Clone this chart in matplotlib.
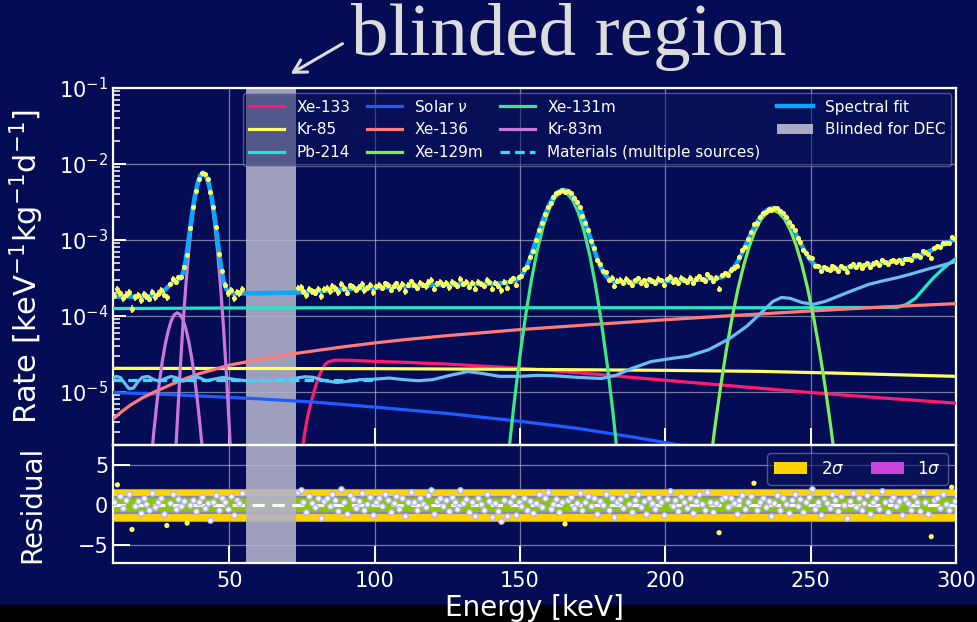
import numpy as np
import matplotlib
matplotlib.use("Agg")
import matplotlib.pyplot as plt
from matplotlib.patches import Patch, Rectangle, FancyArrowPatch
from matplotlib.ticker import LogLocator, NullFormatter, FixedLocator

plt.rcParams["font.family"] = ["DejaVu Sans"]
plt.rcParams["mathtext.fontset"] = "dejavusans"

BG = "#040c55"
E_MIN, E_MAX = 10, 300
BLIND_LO, BLIND_HI = 55.6, 72.8

# ---------------- measured spectrum: 1 keV bins, DEC window removed ----------------
bin_centers = np.concatenate([np.arange(10.5, 55.0, 1.0), np.arange(73.5, 300.0, 1.0)])

# rate in units of 1e-4 / (keV kg d)
data_rate_e4 = [
    1.85, 2.25, 2.00, 1.73, 1.91, 2.05, 1.24, 1.76, 1.89, 1.62,
    1.94, 1.82, 1.69, 2.07, 1.78, 1.97, 2.17, 1.90, 1.75, 2.60,
    3.09, 2.76, 3.21, 3.22, 4.38, 6.36, 14.2, 27.2, 43.8, 63.4,
    76.4, 74.7, 63.3, 42.7, 26.9, 14.6, 6.54, 3.88, 2.53, 2.00,
    2.22, 1.70, 2.07, 1.99, 2.24,
    2.33, 2.38, 2.12, 1.87, 2.28, 2.12, 2.03, 2.26, 1.80, 2.23,
    2.33, 2.12, 2.47, 2.31, 2.04, 2.64, 2.30, 2.01, 2.52, 2.42,
    2.19, 2.40, 2.63, 2.18, 2.34, 2.55, 2.05, 2.44, 2.54, 2.32,
    2.67, 2.53, 2.19, 2.46, 2.67, 2.31, 2.65, 2.12, 2.53, 2.85,
    2.57, 2.32, 2.69, 2.53, 2.45, 2.82, 3.00, 2.26, 2.67, 2.78,
    2.55, 2.72, 2.38, 2.83, 2.66, 2.47, 3.07, 2.65, 2.78, 2.39,
    2.72, 2.27, 2.83, 2.65, 2.49, 2.97, 2.78, 2.27, 2.71, 2.46,
    2.16, 2.83, 2.36, 2.88, 3.14, 2.58, 3.21, 3.34, 4.13, 4.44,
    5.96, 7.07, 9.87, 13.57, 16.48, 21.68, 27.32, 30.89, 36.39, 41.14,
    42.83, 45.59, 42.97, 44.28, 41.42, 35.95, 31.46, 27.25, 20.69, 16.88,
    13.42, 9.69, 7.79, 5.37, 4.79, 3.87, 3.73, 2.95, 3.15, 2.48,
    2.87, 2.96, 2.69, 3.08, 2.82, 2.58, 2.94, 3.14, 2.74, 2.93,
    2.55, 3.02, 2.88, 2.72, 3.10, 2.95, 2.54, 3.04, 3.29, 2.83,
    3.04, 2.70, 3.19, 2.99, 2.83, 3.17, 2.70, 3.09, 3.32, 3.03,
    2.90, 3.51, 3.21, 2.89, 3.20, 2.27, 3.44, 3.65, 3.47, 4.07,
    4.33, 4.50, 5.94, 7.31, 8.09, 10.24, 12.75, 16.04, 16.58, 19.76,
    22.51, 23.64, 25.66, 25.02, 26.25, 26.37, 23.68, 22.74, 20.01, 16.95,
    15.44, 13.47, 10.71, 9.30, 7.28, 6.68, 6.04, 5.75, 4.56, 4.54,
    3.90, 4.42, 4.20, 4.00, 4.52, 4.31, 3.95, 4.54, 4.26, 3.82,
    4.50, 4.85, 4.36, 4.78, 4.33, 4.66, 5.03, 4.35, 4.89, 5.08,
    4.72, 5.49, 5.10, 4.76, 5.32, 5.52, 5.17, 5.47, 4.91, 5.68,
    5.62, 5.51, 6.30, 6.25, 6.01, 7.15, 6.92, 6.60, 5.75, 7.84,
    8.26, 8.09, 9.15, 9.04, 9.09, 10.79, 10.43,
]

# normalised residuals (data - fit) / sigma per bin
residuals = [
    0.3, 2.5, 1.1, -0.4, 0.6, 1.4, -3.1, -0.2, 0.5, -1.0,
    0.8, 0.1, -0.6, 1.5, -0.3, 0.4, 0.9, -1.2, -2.6, 0.2,
    1.3, -0.5, 0.7, -0.1, 0.5, -2.3, 0.0, 0.6, -0.8, 0.3,
    1.0, -0.4, 0.2, -1.9, 0.4, 1.2, -0.7, 0.9, 0.3, -0.5,
    1.1, -1.3, 0.6, 0.2, 1.5,
    1.6, 1.8, 0.4, -0.9, 1.1, 0.2, -0.3, 0.8, -1.6, 0.5,
    0.9, -0.2, 1.4, 0.6, -0.8, 2.0, 0.3, -1.1, 1.2, 0.7,
    -0.4, 0.5, 1.5, -0.6, 0.1, 1.0, -1.3, 0.4, 0.8, -0.2,
    1.3, 0.6, -0.9, 0.2, 1.1, -0.5, 0.9, -1.4, 0.3, 1.6,
    0.4, -0.7, 0.8, 0.1, -0.3, 1.2, 1.9, -1.2, 0.5, 0.9,
    -0.1, 0.6, -0.8, 1.0, 0.3, -0.5, 1.9, 0.2, 0.7, -0.9,
    0.4, -1.4, 0.8, 0.1, -0.6, 1.3, 0.5, -1.5, 0.2, -0.8,
    -2.0, 0.6, -1.4, 0.3, 1.1, -1.25, 0.4, -0.2, 0.9, -0.6,
    0.5, -1.0, 0.2, 1.4, -0.3, 0.8, 1.6, -0.5, 0.1, 0.7,
    -0.9, 0.3, -2.4, 0.6, 1.0, -0.4, 0.2, 1.5, -0.7, 0.4,
    1.1, -0.2, 0.8, -1.2, 0.5, 0.0, 1.3, -0.6, 0.9, -1.5,
    0.3, 0.7, -0.4, 1.2, 0.1, -0.9, 0.6, 1.4, -0.3, 0.5,
    -1.1, 0.8, 0.2, -0.5, 1.0, 0.4, -1.3, 0.7, 1.7, -0.2,
    0.6, -0.8, 1.1, 0.3, -0.4, 0.9, -1.0, 0.5, 1.3, 0.1,
    -0.6, 1.6, 0.4, -0.9, 0.2, -3.5, 0.7, 1.0, -0.3, 0.8,
    0.2, -1.2, 0.6, 1.2, -0.5, 0.3, 1.1, 2.7, -0.7, 0.4,
    0.9, -0.3, 0.5, -1.4, 0.2, 1.2, -0.6, 0.8, 0.1, -1.0,
    0.6, 1.3, -0.2, 0.7, -0.9, 0.4, 1.0, 1.96, -0.5, 0.3,
    -1.3, 0.8, 0.2, -0.4, 1.4, 0.6, -0.8, 1.1, 0.0, -1.6,
    0.5, 1.5, -0.3, 0.9, -0.7, 0.2, 1.2, -1.1, 0.4, 0.8,
    -0.5, 1.7, 0.3, -0.9, 0.6, 1.0, -0.2, 0.5, -1.3, 0.7,
    0.2, -0.6, 1.1, 0.4, -0.8, 1.6, 0.3, -1.2, -4.0, 0.6,
    0.9, -0.4, 1.3, 0.1, -0.7, 2.2, 0.5,
]

# ---------------- spectral fit (1e-4 / keV kg d) ----------------
fit_energy = np.concatenate([
    [10, 15, 20, 24, 25, 26, 27, 28, 29, 30, 31, 32, 33, 34, 35, 36, 37, 38, 39,
     40, 41, 42, 43, 44, 45, 46, 47, 48, 49, 50, 52, 55, 60, 65, 70, 75, 80, 90,
     100, 110, 120, 130, 140, 145],
    np.arange(146.5, 184.0, 1.0),
    [186, 190, 200, 210, 213],
    np.arange(214.5, 259.0, 1.0),
    [262, 266, 270, 275, 280, 284, 288, 292, 296, 300],
])
fit_rate_e4 = [
    1.80, 1.80, 1.80, 1.83, 1.87, 1.94, 2.06, 2.23, 2.44, 2.66, 2.84, 2.95, 3.08,
    3.59, 5.37, 10.1, 19.7, 35.2, 54.1, 70.4, 76.9, 70.4, 54.1, 35.1, 19.5, 9.75,
    4.88, 2.89, 2.23, 2.05, 1.97, 1.98, 1.99, 2.00, 2.01, 2.04, 2.10, 2.25, 2.35,
    2.45, 2.55, 2.60, 2.65, 2.72,
    2.80, 2.84, 2.93, 3.10, 3.39, 3.87, 4.63, 5.79, 7.47, 9.78, 12.85, 16.65,
    21.15, 26.15, 31.3, 36.3, 40.5, 43.7, 45.3, 45.3, 43.7, 40.5, 36.3, 31.3,
    26.15, 21.15, 16.65, 12.85, 9.78, 7.47, 5.79, 4.63, 3.87, 3.39, 3.10, 2.93,
    2.84, 2.80,
    2.79, 2.80, 2.86, 2.95, 3.03,
    3.10, 3.11, 3.12, 3.15, 3.18, 3.25, 3.37, 3.55, 3.85, 4.27, 4.88, 5.73, 6.86,
    8.30, 10.1, 12.2, 14.55, 17.0, 19.5, 21.9, 23.85, 25.3, 26.05, 26.1, 25.5,
    24.1, 22.2, 19.95, 17.55, 15.1, 12.8, 10.8, 9.0, 7.64, 6.53, 5.70, 5.11,
    4.72, 4.45, 4.29, 4.19, 4.14, 4.12, 4.12, 4.14,
    4.28, 4.48, 4.70, 4.97, 5.27, 5.60, 6.30, 7.45, 8.80, 10.4,
]

# ---------------- background / signal components (1 / keV kg d) ----------------
xe133_energy = [74, 75, 76, 77, 78, 79, 80, 81, 82, 83, 84, 86, 88, 92, 100, 110,
                125, 150, 175, 200, 225, 250, 275, 300]
xe133_rate = [7e-7, 1.6e-6, 3.0e-6, 4.8e-6, 7.0e-6, 9.6e-6, 1.3e-5, 1.65e-5, 2.0e-5,
              2.3e-5, 2.48e-5, 2.6e-5, 2.62e-5, 2.6e-5, 2.52e-5, 2.45e-5, 2.32e-5,
              2.05e-5, 1.72e-5, 1.42e-5, 1.18e-5, 9.8e-6, 8.3e-6, 7.1e-6]

kr85_energy = [10, 100, 150, 200, 233, 260, 300]
kr85_rate = [2.04e-5, 2.02e-5, 1.98e-5, 1.92e-5, 1.86e-5, 1.76e-5, 1.60e-5]

pb214_energy = [10, 50, 100, 150, 200, 250, 275, 280, 283, 286, 289, 292, 295, 298, 300]
pb214_rate = [1.25e-4, 1.27e-4, 1.28e-4, 1.28e-4, 1.28e-4, 1.28e-4, 1.29e-4, 1.30e-4,
              1.42e-4, 1.70e-4, 2.30e-4, 3.10e-4, 4.00e-4, 5.00e-4, 5.70e-4]

solar_energy = [10, 30, 60, 80, 100, 125, 150, 170, 190, 210, 220]
solar_rate = [9.8e-6, 9.2e-6, 8.1e-6, 7.3e-6, 6.3e-6, 5.2e-6, 4.1e-6, 3.3e-6, 2.5e-6,
              1.85e-6, 1.55e-6]

xe136_energy = [10, 13, 16, 20, 25, 30, 35, 40, 50, 60, 70, 80, 90, 100, 110, 125,
                150, 175, 200, 225, 250, 275, 300]
xe136_rate = [4.4e-6, 5.5e-6, 6.7e-6, 8.3e-6, 1.03e-5, 1.25e-5, 1.5e-5, 1.75e-5,
              2.25e-5, 2.65e-5, 3.1e-5, 3.5e-5, 3.95e-5, 4.4e-5, 4.85e-5, 5.5e-5,
              6.6e-5, 7.7e-5, 8.9e-5, 1.02e-4, 1.16e-4, 1.31e-4, 1.45e-4]

xe129m_energy = [215, 217, 219, 221, 223, 225, 227, 229, 231, 233, 235, 237, 239,
                 241, 243, 245, 247, 249, 251, 253, 255, 257, 259]
xe129m_rate = [8.2e-7, 3.3e-6, 1.16e-5, 3.57e-5, 9.6e-5, 2.27e-4, 4.69e-4, 8.5e-4,
               1.35e-3, 1.89e-3, 2.29e-3, 2.45e-3, 2.29e-3, 1.89e-3, 1.35e-3, 8.5e-4,
               4.69e-4, 2.27e-4, 9.6e-5, 3.57e-5, 1.16e-5, 3.3e-6, 8.2e-7]

xe131m_energy = [146, 148, 150, 152, 154, 156, 158, 160, 162, 164, 165, 166, 168,
                 170, 172, 174, 176, 178, 180, 182, 184]
xe131m_rate = [1.44e-6, 7.2e-6, 3.0e-5, 1.05e-4, 3.07e-4, 7.45e-4, 1.51e-3, 2.55e-3,
               3.6e-3, 4.24e-3, 4.3e-3, 4.16e-3, 3.41e-3, 2.33e-3, 1.33e-3, 6.3e-4,
               2.52e-4, 8.3e-5, 2.3e-5, 5.3e-6, 1.0e-6]

kr83m_low_energy = list(range(23, 42))
kr83m_low_rate = [1.1e-6, 2.9e-6, 6.7e-6, 1.39e-5, 2.6e-5, 4.3e-5, 6.4e-5, 8.6e-5,
                  1.03e-4, 1.1e-4, 1.05e-4, 9.0e-5, 6.9e-5, 4.7e-5, 2.9e-5, 1.6e-5,
                  7.8e-6, 3.4e-6, 1.35e-6]
kr83m_high_energy = list(range(31, 52))
kr83m_high_rate = [5.8e-7, 3.4e-6, 1.7e-5, 7.1e-5, 2.4e-4, 6.9e-4, 1.61e-3, 3.12e-3,
                   5.0e-3, 6.64e-3, 7.3e-3, 6.64e-3, 5.0e-3, 3.12e-3, 1.61e-3, 6.9e-4,
                   2.4e-4, 7.1e-5, 1.7e-5, 3.4e-6, 5.8e-7]

materials_energy = [10, 40, 70, 100]
materials_rate = [1.45e-5, 1.45e-5, 1.45e-5, 1.45e-5]

extra_bkg_energy = [10, 11, 12.5, 14, 15.5, 17, 18.5, 20, 22, 24, 26, 28, 30, 32, 34,
                    36, 38, 40, 42, 45, 48, 52, 56, 60, 64, 68, 72, 76, 79, 83, 87,
                    91, 95, 100, 105, 110, 115, 120, 126, 132, 137, 143, 150, 156,
                    162, 170, 178, 183, 188, 195, 202, 208, 215, 222, 228, 233, 237,
                    240, 243, 247, 251, 255, 260, 265, 270, 275, 280, 285, 290, 295, 300]
extra_bkg_rate = [1.5e-5, 1.6e-5, 1.55e-5, 1.3e-5, 1.1e-5, 1.12e-5, 1.35e-5, 1.55e-5,
                  1.6e-5, 1.45e-5, 1.38e-5, 1.5e-5, 1.6e-5, 1.52e-5, 1.38e-5, 1.45e-5,
                  1.58e-5, 1.52e-5, 1.4e-5, 1.48e-5, 1.55e-5, 1.45e-5, 1.4e-5, 1.42e-5,
                  1.4e-5, 1.45e-5, 1.5e-5, 1.58e-5, 1.55e-5, 1.4e-5, 1.33e-5, 1.38e-5,
                  1.45e-5, 1.47e-5, 1.52e-5, 1.45e-5, 1.4e-5, 1.45e-5, 1.65e-5, 1.85e-5,
                  1.75e-5, 1.6e-5, 1.6e-5, 1.65e-5, 1.63e-5, 1.55e-5, 1.5e-5, 1.65e-5,
                  2.0e-5, 2.5e-5, 2.75e-5, 2.95e-5, 3.6e-5, 5.0e-5, 7.3e-5, 1.1e-4,
                  1.55e-4, 1.75e-4, 1.7e-4, 1.5e-4, 1.42e-4, 1.55e-4, 1.85e-4, 2.2e-4,
                  2.6e-4, 2.9e-4, 3.2e-4, 3.6e-4, 4.1e-4, 4.6e-4, 5.2e-4]

POISSON_SCALE = 2.1e-6  # rate-to-variance factor of the exposure

# ---------------- derived arrays ----------------
rate = np.array(data_rate_e4) * 1e-4
rate_err = np.sqrt(rate * POISSON_SCALE)
fit_rate = np.array(fit_rate_e4) * 1e-4
resid = np.array(residuals)

# ---------------- figure ----------------
fig = plt.figure(figsize=(9.77, 6.22), dpi=100, facecolor=BG)
fig.patches.append(Rectangle((0, 0), 1, 0.028, transform=fig.transFigure,
                             color="black", zorder=-5))

ax = fig.add_axes([0.1157, 0.2846, 0.8628, 0.5740])
axr = fig.add_axes([0.1157, 0.0949, 0.8628, 0.1897], sharex=ax)

for a in (ax, axr):
    a.set_facecolor("none")
    for s in a.spines.values():
        s.set_color("white")
        s.set_linewidth(1.6)
    a.grid(True, which="major", color="#c4c4d4", lw=0.9, alpha=0.6)
    a.set_axisbelow(True)
    a.axvspan(BLIND_LO, BLIND_HI, color="#b4b4cc", alpha=0.88, lw=0, zorder=1.5)

lw = 2.3
C = {
    "xe133": "#ff1a72", "kr85": "#ffff66", "pb214": "#22e8c6", "solar": "#1f5cff",
    "xe136": "#ff7b7b", "xe129m": "#7aee5c", "xe131m": "#3ee883", "kr83m": "#c878d8",
    "mat": "#38dcff", "fit": "#08a8ff", "extra": "#6cbcef",
}
h_xe133, = ax.plot(xe133_energy, xe133_rate, color=C["xe133"], lw=lw, zorder=3)
h_kr85, = ax.plot(kr85_energy, kr85_rate, color=C["kr85"], lw=lw, zorder=3)
h_pb214, = ax.plot(pb214_energy, pb214_rate, color=C["pb214"], lw=lw, zorder=3)
h_solar, = ax.plot(solar_energy, solar_rate, color=C["solar"], lw=lw, zorder=3)
h_xe136, = ax.plot(xe136_energy, xe136_rate, color=C["xe136"], lw=lw, zorder=3)
h_xe129m, = ax.plot(xe129m_energy, xe129m_rate, color=C["xe129m"], lw=lw, zorder=3)
h_xe131m, = ax.plot(xe131m_energy, xe131m_rate, color=C["xe131m"], lw=lw, zorder=3)
h_kr83m, = ax.plot(kr83m_low_energy, kr83m_low_rate, color=C["kr83m"], lw=lw, zorder=3)
ax.plot(kr83m_high_energy, kr83m_high_rate, color=C["kr83m"], lw=lw, zorder=3)
ax.plot(extra_bkg_energy, extra_bkg_rate, color=C["extra"], lw=lw, zorder=3)
h_mat, = ax.plot(materials_energy, materials_rate, color=C["mat"], lw=lw, ls=(0, (3, 1.6)),
                 zorder=3.2)
h_fit, = ax.plot(fit_energy, fit_rate, color=C["fit"], lw=3.2, zorder=4)
ax.errorbar(bin_centers, rate, yerr=rate_err, xerr=0.5, fmt="o", ms=2.6,
            color="#ffff5c", ecolor="#ffff5c", elinewidth=1.1, capsize=0, zorder=5)

ax.set_yscale("log")
ax.set_xlim(E_MIN, E_MAX)
ax.set_ylim(2e-6, 1e-1)
ax.yaxis.set_major_locator(LogLocator(base=10, numticks=10))
ax.yaxis.set_minor_locator(LogLocator(base=10, subs=np.arange(2, 10), numticks=20))
ax.yaxis.set_minor_formatter(NullFormatter())
ax.tick_params(axis="y", which="major", direction="in", length=9, width=1.4,
               colors="white", labelsize=15, left=True, right=False)
ax.tick_params(axis="y", which="minor", direction="in", length=5, width=1.1,
               colors="white", left=True, right=False)
ax.tick_params(axis="x", which="both", direction="in", length=12, width=1.4,
               colors="white", labelbottom=False, top=False)
ax.xaxis.set_major_locator(FixedLocator([50, 100, 150, 200, 250, 300]))
ax.set_ylabel("Rate [keV$^{-1}$kg$^{-1}$d$^{-1}$]", color="white", fontsize=22)

blind_patch = Patch(facecolor="#b4b4cc", edgecolor="none", alpha=0.95)
handles = [h_xe133, h_kr85, h_pb214, h_solar, h_xe136, h_xe129m, h_xe131m, h_kr83m,
           h_mat, h_fit, blind_patch]
labels = ["Xe-133", "Kr-85", "Pb-214", r"Solar $\nu$", "Xe-136", "Xe-129m",
          "Xe-131m", "Kr-83m", "Materials (multiple sources)", "Spectral fit",
          "Blinded for DEC"]
leg = ax.legend(handles, labels, ncol=4, loc="upper right", fontsize=11,
                frameon=True, facecolor="#0a1258", edgecolor="#9aa0c0",
                framealpha=0.5, labelcolor="white", handlelength=2.3,
                columnspacing=1.1, borderaxespad=0.3, labelspacing=0.5)
leg.set_zorder(10)

# ---------------- residual panel ----------------
axr.axhspan(-2, 2, color="#ffd400", lw=0, zorder=1)
axr.axhspan(-1, 1, color="#8cc800", lw=0, zorder=1.1)
axr.axhline(1, color="#8c86aa", lw=1.6, zorder=1.2)
axr.axhline(-1, color="#8c86aa", lw=1.6, zorder=1.2)
axr.axhline(2, color="#b8a000", lw=0.8, zorder=1.2)
axr.axhline(-2, color="#b8a000", lw=0.8, zorder=1.2)
axr.axhline(0, color="white", lw=2.2, ls=(0, (4, 2.5)), zorder=3)

inside = np.abs(resid) <= 2.05
axr.scatter(bin_centers[inside], resid[inside], s=16, facecolor="#fff3f6",
            edgecolor="#a9b2ff", linewidth=0.9, zorder=4)
axr.scatter(bin_centers[~inside], resid[~inside], s=14, facecolor="#ffff5c",
            edgecolor="none", zorder=4)

axr.set_ylim(-7.3, 7.5)
axr.yaxis.set_major_locator(FixedLocator([-5, 0, 5]))
axr.set_yticklabels(["\u22125", "0", "5"])
axr.tick_params(axis="both", which="major", direction="in", length=12, width=1.4,
                colors="white", labelsize=15, top=False, right=False)
axr.tick_params(axis="x", pad=6)
axr.set_xlim(E_MIN, E_MAX)
axr.set_ylabel("Residual", color="white", fontsize=20)
axr.set_xlabel("Energy [keV]", color="white", fontsize=20, labelpad=2)

leg2 = axr.legend([Patch(facecolor="#ffd400"), Patch(facecolor="#cc44dd")],
                  [r"2$\sigma$", r"1$\sigma$"], ncol=2, loc="upper right",
                  fontsize=12, frameon=True, facecolor="#0a1258",
                  edgecolor="#8088b0", framealpha=0.6, labelcolor="white",
                  handlelength=2.0, handletextpad=0.8, columnspacing=1.6,
                  borderaxespad=0.5)
leg2.set_zorder(10)

ax.yaxis.set_label_coords(-0.079, 0.5)
axr.yaxis.set_label_coords(-0.079, 0.5)

# ---------------- annotation ----------------
fig.text(0.359, 0.912, "blinded region", fontsize=54, color="#dcdcdc",
         family="Liberation Serif", ha="left", va="baseline")
arrow = FancyArrowPatch((0.353, 0.932), (0.295, 0.879), transform=fig.transFigure,
                        arrowstyle="->,head_length=9,head_width=5", lw=2.2,
                        color="#dcdcdc", mutation_scale=1)
fig.patches.append(arrow)

fig.savefig("out.png", dpi=100, facecolor=BG)
